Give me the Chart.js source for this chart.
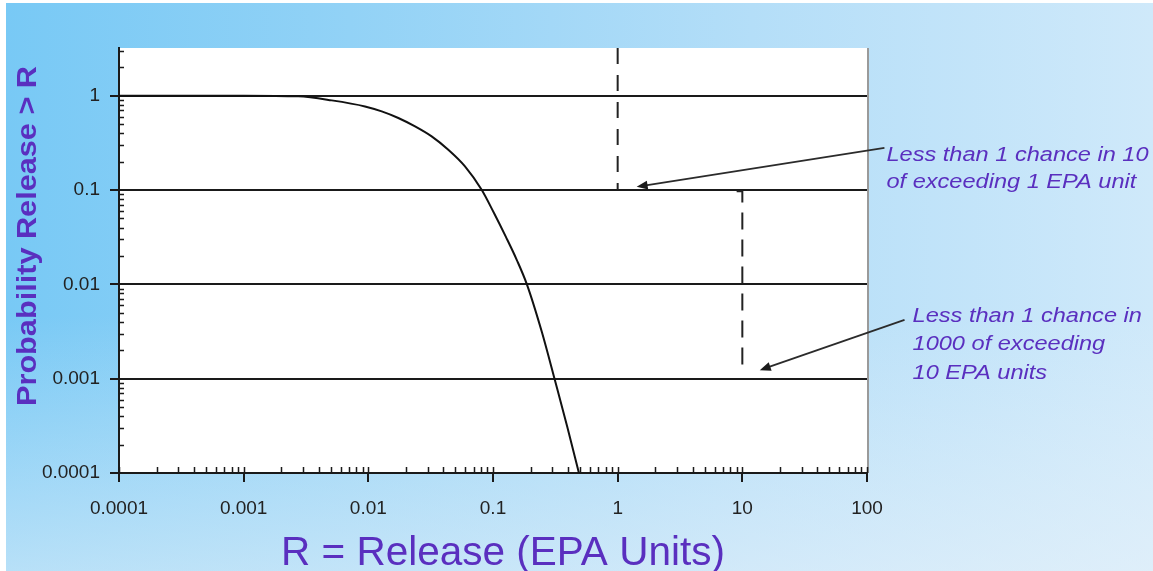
<!DOCTYPE html>
<html>
<head>
<meta charset="utf-8">
<script src="https://cdn.jsdelivr.net/npm/chart.js@4.4.1/dist/chart.umd.min.js"></script>
<style>
  html, body { margin: 0; padding: 0; background: #fff; }
  #wrap { position: relative; width: 1153px; height: 571px; overflow: hidden; }
  #sky {
    position: absolute; left: 6px; top: 3px; right: 0; bottom: 0;
    background:
      linear-gradient(to bottom, rgba(255,255,255,0) 0%, rgba(255,255,255,0) 55%, rgba(235,243,250,0.55) 100%),
      linear-gradient(to right, #78c9f5 0%, #92d2f6 30%, #b4def8 65%, #cfe9fa 100%);
  }
  #chart { position: absolute; left: 0; top: 0; }
</style>
</head>
<body>
<div id="wrap">
  <div id="sky"></div>
  <canvas id="chart" width="1153" height="571"></canvas>
</div>
<script>
// exceedance curve
var releaseX = [0.0001, 0.0003, 0.001, 0.00274, 0.00508, 0.0094, 0.0128, 0.0174, 0.0237, 0.0322, 0.0438, 0.0596, 0.0811,
                0.1016, 0.1269, 0.155, 0.187, 0.2466, 0.3135, 0.395, 0.489];
var probY    = [1, 1, 1, 0.983, 0.891, 0.769, 0.681, 0.58, 0.472, 0.37, 0.267, 0.178, 0.1005,
                0.0573, 0.0318, 0.0182, 0.01, 0.00312, 0.000966, 0.000306, 0.0001];

// dashed markers
var dash1X = [1, 1];
var dash1Y = [3.2, 0.1];
var dash2X = [9.0, 10, 10];
var dash2Y = [0.097, 0.097, 0.00117];

var xTicks = [0.0001, 0.001, 0.01, 0.1, 1, 10, 100];
var xTickLabels = ['0.0001', '0.001', '0.01', '0.1', '1', '10', '100'];
var yTicks = [0.0001, 0.001, 0.01, 0.1, 1];
var yTickLabels = ['0.0001', '0.001', '0.01', '0.1', '1'];

var xTitle = 'R = Release (EPA Units)';
var yTitle = 'Probability Release > R';

// annotations: arrow tail -> head, in data units
var note1Lines = ['Less than 1 chance in 10', 'of exceeding 1 EPA unit'];
var note1Arrow = [{x: 138, y: 0.28}, {x: 1.42, y: 0.108}];
var note2Lines = ['Less than 1 chance in', '1000 of exceeding', '10 EPA units'];
var note2Arrow = [{x: 200, y: 0.0042}, {x: 13.8, y: 0.00123}];

var purple = '#5a2fbf';
var ink = '#1a1a1a';
var fontFam = '"Liberation Sans", Arial, sans-serif';

function toPoints(xs, ys) {
    return xs.map(function(x, i) { return {x: x, y: ys[i]}; });
}

function drawArrow(ctx, x0, y0, x1, y1) {
    var ang = Math.atan2(y1 - y0, x1 - x0);
    ctx.beginPath();
    ctx.moveTo(x0, y0);
    ctx.lineTo(x1 - 6 * Math.cos(ang), y1 - 6 * Math.sin(ang));
    ctx.stroke();
    ctx.beginPath();
    ctx.moveTo(x1, y1);
    ctx.lineTo(x1 - 11 * Math.cos(ang) + 4.5 * Math.sin(ang), y1 - 11 * Math.sin(ang) - 4.5 * Math.cos(ang));
    ctx.lineTo(x1 - 11 * Math.cos(ang) - 4.5 * Math.sin(ang), y1 - 11 * Math.sin(ang) + 4.5 * Math.cos(ang));
    ctx.closePath();
    ctx.fill();
}

function drawNote(ctx, lines, left, baseline, step) {
    ctx.save();
    ctx.fillStyle = purple;
    ctx.font = 'italic 20.5px ' + fontFam;
    ctx.textBaseline = 'alphabetic';
    ctx.textAlign = 'left';
    lines.forEach(function(t, i) {
        ctx.save();
        ctx.translate(left, baseline + i * step);
        ctx.scale(1.15, 1);
        ctx.fillText(t, 0, 0);
        ctx.restore();
    });
    ctx.restore();
}

var decor = {
    id: 'decor',
    beforeDraw: function(chart) {
        var a = chart.chartArea, ctx = chart.ctx;
        ctx.save();
        ctx.fillStyle = '#fff';
        ctx.fillRect(a.left, a.top, a.right - a.left, a.bottom - a.top);
        ctx.restore();
    },
    afterDraw: function(chart) {
        var ctx = chart.ctx, a = chart.chartArea;
        var xs = chart.scales.x, ys = chart.scales.y;
        ctx.save();

        // right frame
        ctx.strokeStyle = '#9a9a9a';
        ctx.lineWidth = 2;
        ctx.beginPath();
        ctx.moveTo(a.right + 1, a.top);
        ctx.lineTo(a.right + 1, a.bottom);
        ctx.stroke();

        // minor ticks, drawn inwards
        ctx.strokeStyle = ink;
        ctx.lineWidth = 1.5;
        ctx.beginPath();
        for (var d = 0.0001; d < 99; d *= 10) {
            for (var m = 1; m <= 10; m++) {
                var px = Math.round(xs.getPixelForValue(d * m)) + 0.5;
                ctx.moveTo(px, a.bottom);
                ctx.lineTo(px, a.bottom - 6);
            }
        }
        for (var e = 0.0001; e < 2; e *= 10) {
            for (var n = 2; n <= 9; n++) {
                if (e * n > 3.2) continue;
                var py = Math.round(ys.getPixelForValue(e * n)) + 0.5;
                ctx.moveTo(a.left, py);
                ctx.lineTo(a.left + 5, py);
            }
        }
        ctx.stroke();

        // arrows
        ctx.strokeStyle = '#2b2b2b';
        ctx.fillStyle = '#1b1b1b';
        ctx.lineWidth = 1.8;
        [note1Arrow, note2Arrow].forEach(function(ar) {
            drawArrow(ctx,
                xs.getPixelForValue(ar[0].x), ys.getPixelForValue(ar[0].y),
                xs.getPixelForValue(ar[1].x), ys.getPixelForValue(ar[1].y));
        });

        // notes, placed from the arrow tails
        var t1x = xs.getPixelForValue(note1Arrow[0].x), t1y = ys.getPixelForValue(note1Arrow[0].y);
        drawNote(ctx, note1Lines, t1x + 2, t1y + 13, 27.5);
        var t2x = xs.getPixelForValue(note2Arrow[0].x), t2y = ys.getPixelForValue(note2Arrow[0].y);
        drawNote(ctx, note2Lines, t2x + 8, t2y + 2, 28.5);

        // x title, a little right of the plot centre as in the slide
        ctx.fillStyle = purple;
        ctx.font = '40.5px ' + fontFam;
        ctx.textAlign = 'center';
        ctx.textBaseline = 'alphabetic';
        ctx.fillText(xTitle, (a.left + a.right) / 2 + 10, 565);

        // y title
        ctx.font = 'bold 27px ' + fontFam;
        ctx.textBaseline = 'middle';
        var w = ctx.measureText(yTitle).width;
        ctx.translate(29, 236);
        ctx.rotate(-Math.PI / 2);
        ctx.scale(340 / w, 1);
        ctx.fillText(yTitle, 0, 0);

        ctx.restore();
    }
};

new Chart(document.getElementById('chart'), {
    type: 'scatter',
    data: {
        datasets: [{
            data: toPoints(releaseX, probY),
            showLine: true,
            borderColor: '#111',
            borderWidth: 2,
            pointRadius: 0,
            cubicInterpolationMode: 'monotone'
        }, {
            data: toPoints(dash1X, dash1Y),
            showLine: true,
            borderColor: '#222',
            borderWidth: 2,
            borderDash: [16, 11],
            pointRadius: 0
        }, {
            data: toPoints(dash2X, dash2Y),
            showLine: true,
            borderColor: '#222',
            borderWidth: 2,
            borderDash: [17, 10],
            pointRadius: 0
        }]
    },
    options: {
        responsive: false,
        animation: false,
        devicePixelRatio: 1,
        layout: { padding: { left: 0, top: 48, right: 286, bottom: 0 } },
        plugins: { legend: { display: false }, tooltip: { enabled: false } },
        scales: {
            x: {
                type: 'logarithmic',
                position: 'bottom',
                min: 0.0001,
                max: 100,
                afterBuildTicks: function(s) { s.ticks = xTicks.map(function(v) { return {value: v, major: true}; }); },
                afterFit: function(s) { s.height = 98; },
                grid: { drawOnChartArea: false, drawTicks: true, tickLength: 9, color: ink, lineWidth: 2 },
                border: { display: true, color: ink, width: 2 },
                ticks: {
                    autoSkip: false,
                    maxRotation: 0,
                    padding: 15,
                    color: '#222',
                    font: { family: fontFam, size: 19 },
                    callback: function(v) { var i = xTicks.indexOf(v); return i < 0 ? '' : xTickLabels[i]; }
                }
            },
            y: {
                type: 'logarithmic',
                min: 0.0001,
                max: 3.2,
                afterBuildTicks: function(s) { s.ticks = yTicks.map(function(v) { return {value: v, major: true}; }); },
                afterFit: function(s) { s.width = 119; },
                grid: { drawOnChartArea: true, drawTicks: true, tickLength: 9, color: ink, lineWidth: 2 },
                border: { display: true, color: ink, width: 2 },
                ticks: {
                    autoSkip: false,
                    padding: 10,
                    color: '#222',
                    font: { family: fontFam, size: 19 },
                    callback: function(v) { var i = yTicks.indexOf(v); return i < 0 ? '' : yTickLabels[i]; }
                }
            }
        }
    },
    plugins: [decor]
});
</script>
</body>
</html>
